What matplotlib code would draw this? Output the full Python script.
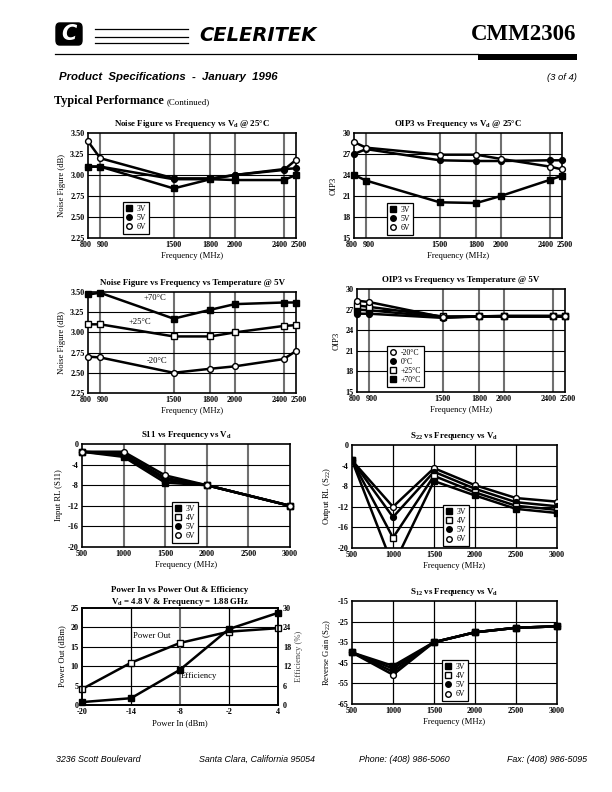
import matplotlib
matplotlib.use("Agg")
import matplotlib.pyplot as plt
import matplotlib.transforms as mtransforms
from matplotlib.lines import Line2D
from matplotlib.patches import Rectangle, FancyBboxPatch

# ---------------- data ----------------
freq_nf = [800, 900, 1500, 1800, 2000, 2400, 2500]
nf_3v = [3.10, 3.10, 2.84, 2.95, 2.94, 2.94, 3.00]
nf_5v = [3.10, 3.10, 2.95, 2.95, 3.00, 3.07, 3.08]
nf_6v = [3.40, 3.20, 2.96, 2.96, 3.00, 3.06, 3.18]

oip3_3v = [24.0, 23.2, 20.1, 20.0, 21.0, 23.3, 23.9]
oip3_5v = [27.0, 27.7, 26.1, 26.0, 26.0, 26.1, 26.1]
oip3_6v = [28.7, 27.9, 26.9, 26.9, 26.3, 25.2, 24.8]

nf_t70 = [3.47, 3.49, 3.17, 3.28, 3.35, 3.37, 3.37]
nf_t25 = [3.10, 3.10, 2.95, 2.95, 3.00, 3.08, 3.09]
nf_tm20 = [2.70, 2.69, 2.50, 2.55, 2.58, 2.67, 2.77]

oip3_tm20 = [28.3, 28.1, 25.9, 26.0, 26.1, 26.1, 26.1]
oip3_t0 = [26.4, 26.4, 25.8, 26.0, 26.0, 26.0, 26.0]
oip3_t25 = [27.6, 27.4, 26.0, 26.0, 26.0, 26.0, 26.0]
oip3_t70 = [27.0, 26.9, 25.9, 26.0, 26.0, 26.0, 26.0]

freq_s11 = [500, 1000, 1500, 2000, 3000]
s11_3v = [-1.5, -2.5, -7.5, -8.0, -12.0]
s11_4v = [-1.5, -2.2, -7.0, -8.0, -12.0]
s11_5v = [-1.5, -1.9, -6.6, -8.0, -12.0]
s11_6v = [-1.5, -1.5, -6.1, -8.0, -12.0]

freq_s = [500, 1000, 1500, 2000, 2500, 3000]
s22_3v = [-3.0, -23.5, -7.0, -9.8, -12.4, -13.2]
s22_4v = [-3.0, -18.0, -6.0, -9.2, -11.8, -12.6]
s22_5v = [-3.0, -14.0, -5.2, -8.5, -11.1, -11.9]
s22_6v = [-3.0, -12.0, -4.5, -7.8, -10.3, -11.0]

s12_3v = [-40.0, -46.5, -35.0, -30.2, -28.0, -27.3]
s12_4v = [-40.0, -47.8, -35.0, -30.2, -28.0, -27.3]
s12_5v = [-40.0, -49.3, -35.0, -30.2, -28.0, -27.3]
s12_6v = [-40.0, -50.8, -35.0, -30.2, -28.0, -27.3]

pin = [-20, -14, -8, -2, 4]
pout = [4.1, 10.9, 16.0, 18.9, 19.8]
eff = [0.9, 2.1, 10.9, 23.5, 28.5]

nf_yticks = [2.25, 2.50, 2.75, 3.00, 3.25, 3.50]
oip3_yticks = [15, 18, 21, 24, 27, 30]
s_yticks = [-20, -16, -12, -8, -4, 0]
s12_yticks = [-65, -55, -45, -35, -25, -15]
pout_yticks = [0, 5, 10, 15, 20, 25]
eff_yticks = [0, 6, 12, 18, 24, 30]

# ---------------- style ----------------
plt.rcParams['font.family'] = ['Liberation Serif', 'DejaVu Serif']
plt.rcParams['mathtext.fontset'] = 'custom'
plt.rcParams['mathtext.rm'] = 'Liberation Serif'
plt.rcParams['mathtext.bf'] = 'Liberation Serif:bold'
plt.rcParams['mathtext.it'] = 'Liberation Serif:italic'

W, H = 612, 792
fig = plt.figure(figsize=(W / 100, H / 100), dpi=100)
fig.patch.set_facecolor('white')

LW = 1.8
MS = 4.2
TFS = 6.4   # title
LFS = 6.2   # axis label
KFS = 5.9   # tick label

def px_axes(l, t, r, b):
    return fig.add_axes([l / W, 1 - b / H, (r - l) / W, (b - t) / H])

def shift_label(lbl, dx):
    off = mtransforms.ScaledTranslation(dx / 100, 0, fig.dpi_scale_trans)
    lbl.set_transform(lbl.get_transform() + off)

def style(ax, xlim, ylim, xticks, yticks, yfmt, vgrid, vcolor='#707070', vlw=1.5):
    ax.set_xlim(*xlim)
    ax.set_ylim(*ylim)
    ax.set_xticks(xticks)
    ax.set_xticklabels([str(x) for x in xticks], fontweight='bold', fontsize=KFS)
    ax.set_yticks(yticks)
    ax.set_yticklabels([yfmt % y for y in yticks], fontweight='bold', fontsize=KFS)
    ax.tick_params(length=0, pad=2.5)
    for lbl in ax.get_xticklabels():
        t = lbl.get_text()
        if t == '800':
            shift_label(lbl, -2)
        elif t == '900':
            shift_label(lbl, 2.5)
        elif t == '2400':
            shift_label(lbl, -4.5)
        elif t == '2500' and xlim[0] == 800:
            shift_label(lbl, 3)
    for x in vgrid:
        ax.axvline(x, color=vcolor, lw=vlw, zorder=1)
    for y in yticks[1:-1]:
        ax.axhline(y, color='black', lw=0.8, zorder=1)
    for s in ax.spines.values():
        s.set_linewidth(1.2)

def line(ax, x, y, kind, z, clip=False):
    if kind == 'fs':
        kw = dict(marker='s', mfc='black', mec='black')
    elif kind == 'fc':
        kw = dict(marker='o', mfc='black', mec='black')
    elif kind == 'oc':
        kw = dict(marker='o', mfc='white', mec='black', mew=1.0)
    else:
        kw = dict(marker='s', mfc='white', mec='black', mew=1.0)
    ax.plot(x, y, color='black', lw=LW, ms=MS, zorder=z, clip_on=clip, **kw)

def legend(ax, kinds, labels, x, y):
    hs = []
    for k in kinds:
        if k == 'fs':
            hs.append(Line2D([], [], ls='none', marker='s', mfc='black', mec='black', ms=4))
        elif k == 'fc':
            hs.append(Line2D([], [], ls='none', marker='o', mfc='black', mec='black', ms=4))
        elif k == 'oc':
            hs.append(Line2D([], [], ls='none', marker='o', mfc='white', mec='black', ms=4, mew=1.0))
        else:
            hs.append(Line2D([], [], ls='none', marker='s', mfc='white', mec='black', ms=4, mew=1.0))
    lg = ax.legend(hs, labels, loc='upper left', bbox_to_anchor=(x, y), fontsize=5.6,
                   frameon=True, fancybox=False, edgecolor='black', framealpha=1,
                   handlelength=0.8, handletextpad=0.6, borderpad=0.35, labelspacing=0.15,
                   borderaxespad=0)
    lg.get_frame().set_linewidth(0.9)
    lg.set_zorder(10)

nf_xt = freq_nf
nf_vg = [900, 1500, 1800, 2000, 2400]

# ---- Panel 1: NF vs Vd ----
ax = px_axes(88, 133, 296, 238)
style(ax, (800, 2500), (2.25, 3.50), nf_xt, nf_yticks, '%.2f', nf_vg)
line(ax, freq_nf, nf_6v, 'oc', 3)
line(ax, freq_nf, nf_5v, 'fc', 4)
line(ax, freq_nf, nf_3v, 'fs', 5)
ax.set_title(r"Noise Figure vs Frequency vs V$_{\mathbf{d}}$ @ 25°C", fontsize=TFS, fontweight='bold', pad=5)
ax.set_xlabel("Frequency (MHz)", fontsize=LFS, labelpad=2)
ax.set_ylabel("Noise Figure (dB)", fontsize=LFS, labelpad=3)
legend(ax, ['fs', 'fc', 'oc'], ['3V', '5V', '6V'], 0.168, 0.343)

# ---- Panel 2: OIP3 vs Vd ----
ax = px_axes(354, 133, 562, 238)
style(ax, (800, 2500), (15, 30), nf_xt, oip3_yticks, '%d', nf_vg)
line(ax, freq_nf, oip3_5v, 'fc', 3)
line(ax, freq_nf, oip3_6v, 'oc', 4)
line(ax, freq_nf, oip3_3v, 'fs', 5)
ax.set_title(r"OIP3 vs Frequency vs V$_{\mathbf{d}}$ @ 25°C", fontsize=TFS, fontweight='bold', pad=5)
ax.set_xlabel("Frequency (MHz)", fontsize=LFS, labelpad=2)
ax.set_ylabel("OIP3", fontsize=LFS, labelpad=3)
legend(ax, ['fs', 'fc', 'oc'], ['3V', '5V', '6V'], 0.16, 0.333)

# ---- Panel 3: NF vs Temperature ----
ax = px_axes(88, 292, 296, 393)
style(ax, (800, 2500), (2.25, 3.50), nf_xt, nf_yticks, '%.2f', nf_vg)
line(ax, freq_nf, nf_t70, 'fs', 3)
line(ax, freq_nf, nf_t25, 'os', 4)
line(ax, freq_nf, nf_tm20, 'oc', 5)
ax.text(1350, 3.42, "+70°C", fontsize=LFS, ha='center', va='center', zorder=6)
ax.text(1220, 3.13, "+25°C", fontsize=LFS, ha='center', va='center', zorder=6)
ax.text(1365, 2.64, "-20°C", fontsize=LFS, ha='center', va='center', zorder=6)
ax.set_title("Noise Figure vs Frequency vs Temperature @ 5V", fontsize=TFS, fontweight='bold', pad=5)
ax.set_xlabel("Frequency (MHz)", fontsize=LFS, labelpad=2)
ax.set_ylabel("Noise Figure (dB)", fontsize=LFS, labelpad=3)

# ---- Panel 4: OIP3 vs Temperature ----
ax = px_axes(357, 289, 565, 392)
style(ax, (800, 2500), (15, 30), nf_xt, oip3_yticks, '%d', nf_vg)
line(ax, freq_nf, oip3_t0, 'fc', 3)
line(ax, freq_nf, oip3_t70, 'fs', 4)
line(ax, freq_nf, oip3_t25, 'os', 5)
line(ax, freq_nf, oip3_tm20, 'oc', 6)
ax.set_title("OIP3 vs Frequency vs Temperature @ 5V", fontsize=TFS, fontweight='bold', pad=5)
ax.set_xlabel("Frequency (MHz)", fontsize=LFS, labelpad=2)
ax.set_ylabel("OIP3", fontsize=LFS, labelpad=3)
legend(ax, ['oc', 'fc', 'os', 'fs'], ['-20°C', '0°C', '+25°C', '+70°C'], 0.144, 0.447)

s_xt = [500, 1000, 1500, 2000, 2500, 3000]
s_vg = [1000, 1500, 2000, 2500]

# ---- Panel 5: S11 ----
ax = px_axes(82, 444, 290, 547)
style(ax, (500, 3000), (-20, 0), s_xt, s_yticks, '%d', s_vg)
line(ax, freq_s11, s11_4v, 'os', 3)
line(ax, freq_s11, s11_5v, 'fc', 4)
line(ax, freq_s11, s11_3v, 'fs', 5)
line(ax, freq_s11, s11_6v, 'oc', 6)
ax.set_title(r"S11 vs Frequency vs V$_{\mathbf{d}}$", fontsize=TFS, fontweight='bold', pad=5)
ax.set_xlabel("Frequency (MHz)", fontsize=LFS, labelpad=2)
ax.set_ylabel("Input RL (S11)", fontsize=LFS, labelpad=3)
legend(ax, ['fs', 'os', 'fc', 'oc'], ['3V', '4V', '5V', '6V'], 0.433, 0.437)

# ---- Panel 6: S22 ----
ax = px_axes(352, 445, 557, 548)
style(ax, (500, 3000), (-20, 0), s_xt, s_yticks, '%d', s_vg, vcolor='black', vlw=0.9)
line(ax, freq_s, s22_3v, 'fs', 6, clip=True)
line(ax, freq_s, s22_4v, 'os', 5, clip=True)
line(ax, freq_s, s22_5v, 'fc', 4, clip=True)
line(ax, freq_s, s22_6v, 'oc', 3, clip=True)
ax.set_title(r"S$_{\mathbf{22}}$ vs Frequency vs V$_{\mathbf{d}}$", fontsize=TFS, fontweight='bold', pad=5)
ax.set_xlabel("Frequency (MHz)", fontsize=LFS, labelpad=2)
ax.set_ylabel(r"Output RL (S$_{22}$)", fontsize=LFS, labelpad=3)
legend(ax, ['fs', 'os', 'fc', 'oc'], ['3V', '4V', '5V', '6V'], 0.444, 0.417)

# ---- Panel 7: Power ----
ax = px_axes(82, 608, 278, 705)
style(ax, (-20, 4), (0, 25), pin, pout_yticks, '%d', [], vcolor='black', vlw=0.9)
ax.axvline(-14, color='black', lw=0.9, zorder=1)
ax.axvline(-8, color='#707070', lw=1.5, zorder=1)
ax.axvline(-2, color='black', lw=0.9, zorder=1)
ax2 = ax.twinx()
ax2.set_ylim(0, 30)
ax2.set_yticks(eff_yticks)
ax2.set_yticklabels([str(v) for v in eff_yticks], fontweight='bold', fontsize=KFS)
ax2.tick_params(length=0, pad=3.5)
for s in ax2.spines.values():
    s.set_linewidth(1.2)
line(ax, pin, pout, 'os', 4)
ax2.plot(pin, eff, color='black', lw=LW, marker='s', mfc='black', mec='black', ms=MS,
         zorder=5, clip_on=False)
ax.text(-11.4, 17.8, "Power Out", fontsize=LFS, ha='center', va='center', zorder=6)
ax.text(-5.7, 7.5, "Efficiency", fontsize=LFS, ha='center', va='center', zorder=6)
ax.set_xlabel("Power In (dBm)", fontsize=LFS, labelpad=2)
ax.set_ylabel("Power Out (dBm)", fontsize=LFS, labelpad=3)
ax2.set_ylabel("Efficiency (%)", fontsize=LFS, labelpad=3, color='#444444')
fig.text(180 / W, 1 - 590 / H, "Power In vs Power Out & Efficiency", fontsize=TFS,
         fontweight='bold', ha='center', va='center')
fig.text(180 / W, 1 - 602 / H, r"V$_{\mathbf{d}}$ = 4.8 V & Frequency = 1.88 GHz", fontsize=TFS,
         fontweight='bold', ha='center', va='center')

# ---- Panel 8: S12 ----
ax = px_axes(352, 601, 557, 704)
style(ax, (500, 3000), (-65, -15), s_xt, s12_yticks, '%d', s_vg, vcolor='black', vlw=0.9)
line(ax, freq_s, s12_4v, 'os', 3)
line(ax, freq_s, s12_5v, 'fc', 4)
line(ax, freq_s, s12_6v, 'oc', 5)
line(ax, freq_s, s12_3v, 'fs', 6)
ax.set_title(r"S$_{\mathbf{12}}$ vs Frequency vs V$_{\mathbf{d}}$", fontsize=TFS, fontweight='bold', pad=5)
ax.set_xlabel("Frequency (MHz)", fontsize=LFS, labelpad=2)
ax.set_ylabel(r"Reverse Gain (S$_{22}$)", fontsize=LFS, labelpad=3)
legend(ax, ['fs', 'os', 'fc', 'oc'], ['3V', '4V', '5V', '6V'], 0.44, 0.427)

# ---------------- header ----------------
def fx(x):
    return x / W

def fy(y):
    return 1 - y / H

fig.patches.append(FancyBboxPatch((fx(56), fy(45)), 26 / W, 22 / H,
                                  boxstyle="round,pad=0,rounding_size=0.006",
                                  transform=fig.transFigure, fc='black', ec='black'))
fig.text(fx(69), fy(34), "C", fontsize=15, fontweight='bold', style='italic',
         family='DejaVu Sans', color='white', ha='center', va='center')
for yy in [29, 36.5, 43]:
    fig.add_artist(Line2D([fx(95), fx(188)], [fy(yy), fy(yy)], color='black', lw=0.9,
                          transform=fig.transFigure))
fig.text(fx(258), fy(35.5), "CELERITEK", fontsize=14, fontweight='bold', style='italic',
         family='DejaVu Sans', ha='center', va='center')
for yy in [33.5, 38.5]:
    fig.add_artist(Line2D([fx(186), fx(332)], [fy(yy), fy(yy)], color='white', lw=0.7,
                          transform=fig.transFigure))
fig.text(fx(576), fy(34), "CMM2306", fontsize=16.5, fontweight='bold',
         family='Liberation Serif', ha='right', va='center')
fig.add_artist(Line2D([fx(55), fx(478)], [fy(54), fy(54)], color='black', lw=0.9,
                      transform=fig.transFigure))
fig.patches.append(Rectangle((fx(478), fy(60)), 99 / W, 6 / H, transform=fig.transFigure,
                             fc='black', ec='none'))
fig.text(fx(59), fy(77), "Product  Specifications  -  January  1996", fontsize=8.2,
         fontweight='bold', style='italic', family='Liberation Sans', ha='left', va='center')
fig.text(fx(577), fy(77), "(3 of 4)", fontsize=6.8, style='italic', family='Liberation Sans',
         ha='right', va='center')
fig.text(fx(54), fy(104), "Typical Performance", fontsize=8.8, fontweight='bold',
         family='Liberation Serif', ha='left', va='baseline')
fig.text(fx(167), fy(104), "(Continued)", fontsize=6.4, family='Liberation Serif',
         ha='left', va='baseline')

# ---------------- footer ----------------
for x, t in [(56, "3236 Scott Boulevard"), (199, "Santa Clara, California 95054"),
             (359, "Phone: (408) 986-5060"), (507, "Fax: (408) 986-5095")]:
    fig.text(fx(x), fy(762), t, fontsize=6.4, style='italic', family='Liberation Sans',
             ha='left', va='baseline')

fig.savefig("out.png", dpi=100, facecolor='white')
